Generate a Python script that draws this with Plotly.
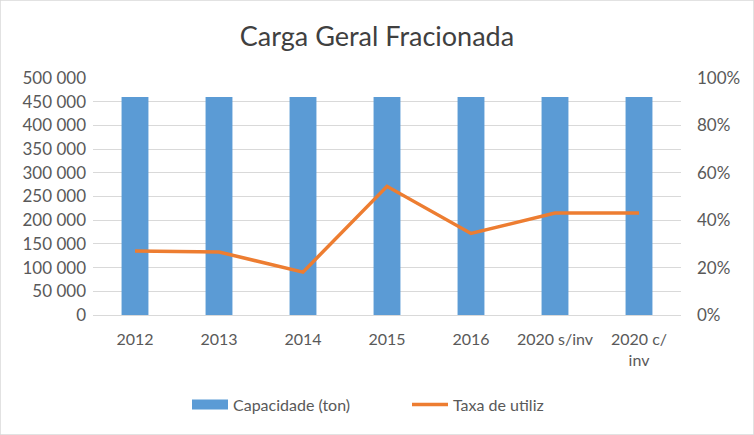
import plotly.graph_objects as go

categories = ["2012", "2013", "2014", "2015", "2016", "2020 s/inv", "2020 c/<br>inv"]
capacidade = [460000, 460000, 460000, 460000, 460000, 460000, 460000]
taxa = [0.27, 0.266, 0.181, 0.543, 0.344, 0.43, 0.43]

font_fam = "Lato, Open Sans, sans-serif"
blue = "#5B9BD5"
orange = "#ED7D31"

fig = go.Figure()
fig.add_trace(go.Bar(x=categories, y=capacidade, name="Capacidade (ton)", showlegend=False,
                     marker=dict(color=blue, line=dict(width=0)), yaxis="y"))
# legend proxy for the bar series (wide rectangle symbol)
fig.add_trace(go.Scatter(x=[categories[0]], y=[None], name="Capacidade (ton)", mode="lines",
                         line=dict(color=blue, width=10), yaxis="y", hoverinfo="skip"))
fig.add_trace(go.Scatter(x=categories, y=taxa, name="Taxa de utiliz", mode="lines",
                         line=dict(color=orange, width=3.5), yaxis="y2"))

fig.update_layout(
    width=754, height=435,
    margin=dict(l=93, r=73, t=78, b=120, autoexpand=False),
    paper_bgcolor="white", plot_bgcolor="white",
    separators=", ",
    title=dict(text="Carga Geral Fracionada", x=0.5, xanchor="center", y=0.915, yanchor="middle",
               font=dict(family=font_fam, size=27, color="#404040")),
    font=dict(family=font_fam, size=16, color="#595959"),
    bargap=0.68,
    showlegend=True,
    legend=dict(orientation="h", x=(187 - 93) / 588, xanchor="left", yref="container", y=0.07,
                yanchor="middle", itemwidth=36, entrywidth=169, entrywidthmode="pixels",
                font=dict(size=16, color="#595959"), traceorder="normal"),
    xaxis=dict(showgrid=False, showline=True, linecolor="#D9D9D9", ticks="", automargin=False,
               ticklabelstandoff=10, tickfont=dict(size=16, color="#595959")),
    yaxis=dict(range=[0, 500000], dtick=50000, tickformat=",d", showgrid=True, automargin=False,
               gridcolor="#D9D9D9", zeroline=False, showline=False, ticks="", ticklabelstandoff=6,
               tickfont=dict(size=17, color="#595959")),
    yaxis2=dict(range=[0, 1], dtick=0.2, tickformat=".0%", overlaying="y", side="right",
                showgrid=False, zeroline=False, showline=False, ticks="", automargin=False,
                ticklabelstandoff=15, tickfont=dict(size=17, color="#595959")),
    shapes=[dict(type="rect", xref="paper", yref="paper", x0=-93/588, y0=-120/237, x1=1+73/588, y1=1+78/237,
                 line=dict(width=1.5, color="#D9D9D9"))],
)

fig.write_html("out.html", config={"displayModeBar": False},
               post_script="document.body.style.margin='0';")
